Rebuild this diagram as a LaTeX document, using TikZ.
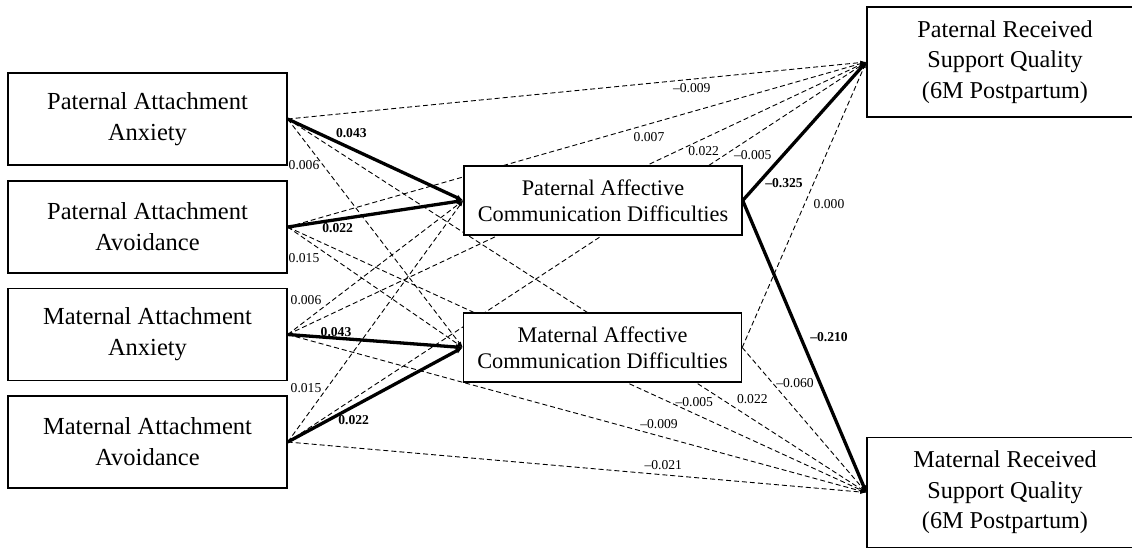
\documentclass[tikz,border=0pt]{standalone}
\usepackage{fontspec}
\setmainfont{Liberation Serif}
\usetikzlibrary{arrows.meta,backgrounds}
\begin{document}
\begin{tikzpicture}[x=1pt,y=-1pt,
  box/.style={draw=black, line width=1.4pt, fill=white, rectangle, align=center, inner sep=0pt},
  lbox/.style={box, minimum width=279pt, minimum height=92pt, font=\fontsize{24.5}{31}\selectfont},
  mbox/.style={box, minimum width=278pt, minimum height=69pt, font=\fontsize{22.3}{26}\selectfont},
  rbox/.style={box, minimum width=276pt, minimum height=110pt, font=\fontsize{24.2}{30.5}\selectfont},
  dline/.style={draw, line width=0.9pt, dash pattern=on 5pt off 3pt, -{Latex[length=6pt,width=4pt]}},
  tline/.style={draw, line width=3.3pt, -{Latex[length=7pt,width=6pt]}},
  lbl/.style={font=\fontsize{13.6}{14}\selectfont, inner sep=0pt},
  blbl/.style={font=\fontsize{13.6}{14}\selectfont\bfseries, inner sep=0pt}]
\useasboundingbox (0,0) rectangle (1132,550);

% boxes
\node[lbox] (a1) at (147.5,119) {Paternal Attachment\\Anxiety};
\node[lbox] (a2) at (147.5,227) {Paternal Attachment\\Avoidance};
\node[lbox] (a3) at (147.5,334.5) {Maternal Attachment\\Anxiety};
\node[lbox] (a4) at (147.5,442) {Maternal Attachment\\Avoidance};
\node[mbox] (pc) at (603,200.5) {Paternal Affective\\Communication Difficulties};
\node[mbox] (mc) at (602.5,347.5) {Maternal Affective\\Communication Difficulties};
\node[rbox] (pr) at (1005,62) {Paternal Received\\Support Quality\\(6M Postpartum)};
\node[rbox] (mr) at (1005,492.5) {Maternal Received\\Support Quality\\(6M Postpartum)};

% connectors
\begin{scope}[on background layer]
  \draw[tline] (a1.east) -- (pc.west);
  \draw[tline] (a2.east) -- (pc.west);
  \draw[tline] (a3.east) -- (mc.west);
  \draw[tline] (a4.east) -- (mc.west);
  \draw[dline] (a1.east) -- (mc.west);
  \draw[dline] (a2.east) -- (mc.west);
  \draw[dline] (a3.east) -- (pc.west);
  \draw[dline] (a4.east) -- (pc.west);
  \draw[dline] (a1.east) -- (pr.west);
  \draw[dline] (a2.east) -- (pr.west);
  \draw[dline] (a3.east) -- (pr.west);
  \draw[dline] (a4.east) -- (pr.west);
  \draw[dline] (a1.east) -- (mr.west);
  \draw[dline] (a2.east) -- (mr.west);
  \draw[dline] (a3.east) -- (mr.west);
  \draw[dline] (a4.east) -- (mr.west);
  \draw[tline] (pc.east) -- (pr.west);
  \draw[tline] (pc.east) -- (mr.west);
  \draw[dline] (mc.east) -- (pr.west);
  \draw[dline] (mc.east) -- (mr.west);
\end{scope}

% labels
\node[blbl] (l1) at (351.3,132.7) {0.043};
\node[lbl] (l2) at (304,165) {0.006};
\node[blbl] (l3) at (337.7,228.3) {0.022};
\node[lbl] (l4) at (304,258) {0.015};
\node[lbl] (l5) at (306,300) {0.006};
\node[blbl] (l6) at (336,331.7) {0.043};
\node[lbl] (l7) at (306,388) {0.015};
\node[blbl] (l8) at (353.7,420) {0.022};
\node[lbl] (l9) at (691.7,88.3) {--0.009};
\node[lbl] (l10) at (649,136.7) {0.007};
\node[lbl] (l11) at (703.7,151) {0.022};
\node[lbl] (l12) at (752.7,155.3) {--0.005};
\node[blbl] (l13) at (784,182.7) {--0.325};
\node[lbl] (l14) at (829,203.7) {0.000};
\node[blbl] (l15) at (829,336.7) {--0.210};
\node[lbl] (l16) at (795,383.3) {--0.060};
\node[lbl] (l17) at (752.3,398.7) {0.022};
\node[lbl] (l18) at (694.3,402.3) {--0.005};
\node[lbl] (l19) at (659,423.7) {--0.009};
\node[lbl] (l20) at (663.3,465.3) {--0.021};
\end{tikzpicture}
\end{document}
